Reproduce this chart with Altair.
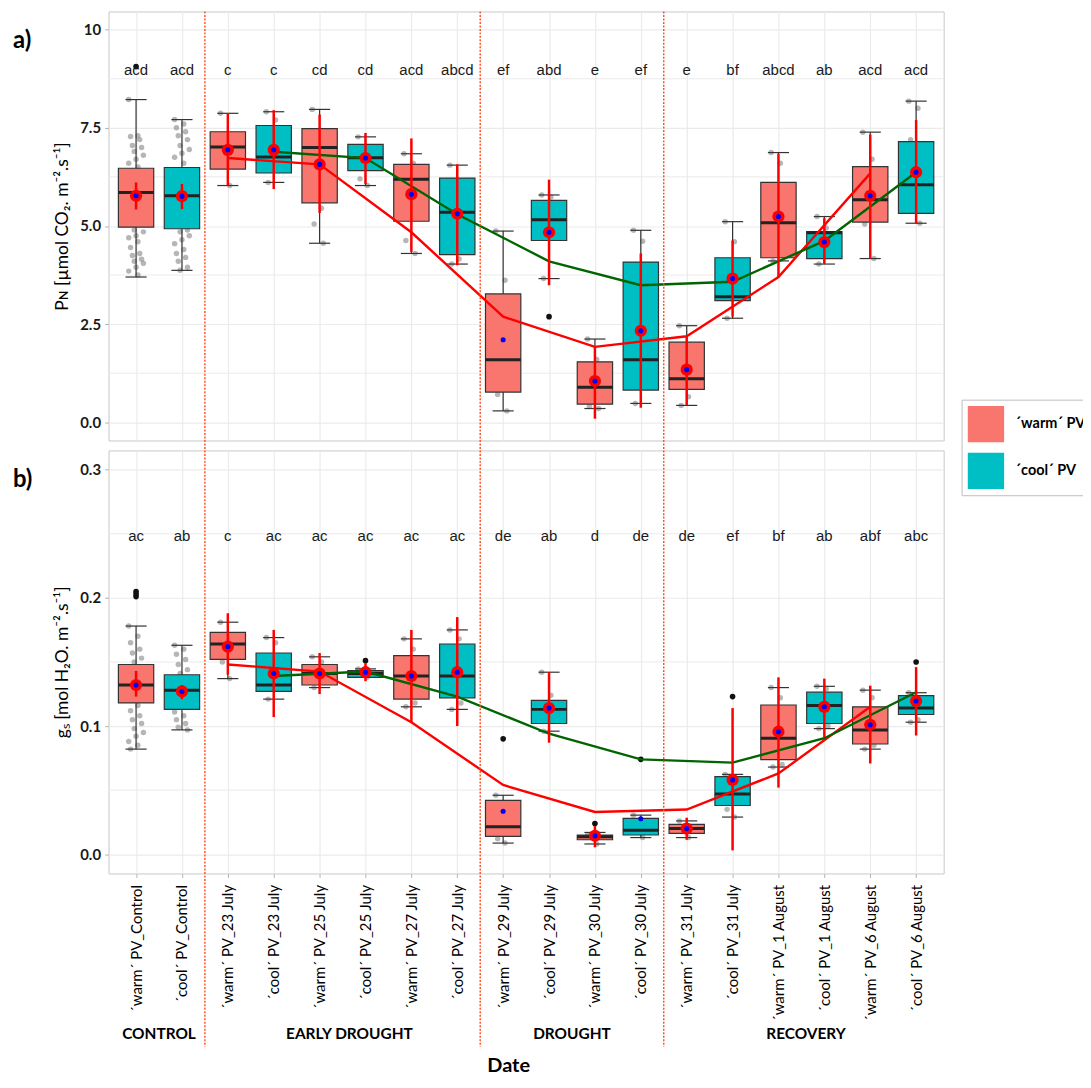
import json
import altair as alt
import pandas as pd

# ---------------- categories ----------------
CATS = ["´warm´ PV_Control", "´cool´ PV_Control",
        "´warm´ PV_23 July", "´cool´ PV_23 July",
        "´warm´ PV_25 July", "´cool´ PV_25 July",
        "´warm´ PV_27 July", "´cool´ PV_27 July",
        "´warm´ PV_29 July", "´cool´ PV_29 July",
        "´warm´ PV_30 July", "´cool´ PV_30 July",
        "´warm´ PV_31 July", "´cool´ PV_31 July",
        "´warm´ PV_1 August", "´cool´ PV_1 August",
        "´warm´ PV_6 August", "´cool´ PV_6 August"]
GROUP_NAMES = ["´warm´ PV", "´cool´ PV"]
GROUP_COLORS = ["#F8766D", "#00BFC4"]
PERIODS = ["CONTROL", "EARLY DROUGHT", "DROUGHT", "RECOVERY"]
PERIOD_POS = [1.5, 5.65, 10.5, 15.6]
SEPARATORS = [2.5, 8.5, 12.5]
WARM_POS = [3, 5, 7, 9, 11, 13, 15, 17]
COOL_POS = [4, 6, 8, 10, 12, 14, 16, 18]

# ---------------- panel a: PN ----------------
PN_LETTERS = ["acd", "acd", "c", "c", "cd", "cd", "acd", "abcd", "ef", "abd",
              "e", "ef", "e", "bf", "abcd", "ab", "acd", "acd"]
PN_Q1 = [4.97, 4.93, 6.45, 6.35, 5.59, 6.41, 5.12, 4.27, 0.77, 4.63, 0.46, 0.82, 0.84, 3.10, 4.19, 4.17, 5.10, 5.32]
PN_MED = [5.85, 5.77, 7.01, 6.76, 7.00, 6.74, 6.19, 5.35, 1.59, 5.16, 0.89, 1.59, 1.11, 3.20, 5.08, 4.83, 5.67, 6.05]
PN_Q3 = [6.47, 6.49, 7.40, 7.56, 7.48, 7.08, 6.57, 6.22, 3.27, 5.65, 1.54, 4.08, 2.04, 4.19, 6.11, 4.86, 6.51, 7.15]
PN_LO = [3.70, 3.87, 6.03, 6.11, 4.56, 6.03, 4.30, 4.03, 0.29, 3.66, 0.35, 0.48, 0.43, 2.65, 4.11, 4.03, 4.17, 5.07]
PN_HI = [8.22, 7.71, 7.87, 7.91, 7.97, 7.27, 6.84, 6.55, 4.87, 5.79, 2.12, 4.89, 2.46, 5.11, 6.87, 5.24, 7.39, 8.18]
PN_MEAN = [5.77, 5.76, 6.94, 6.94, 6.57, 6.73, 5.81, 5.31, 2.10, 4.84, 1.05, 2.33, 1.34, 3.66, 5.24, 4.59, 5.77, 6.37]
PN_ERR_LO = [5.42, 5.43, 6.03, 5.94, 5.33, 6.07, 4.34, 4.00, None, 3.49, 0.09, 0.37, 0.43, 2.69, 3.70, 4.04, 4.17, 5.07]
PN_ERR_HI = [6.11, 6.07, 7.87, 7.95, 7.84, 7.37, 7.23, 6.57, None, 6.18, 1.93, 4.30, 2.20, 4.63, 6.84, 5.20, 7.33, 7.70]
PN_WARM_LINE = [6.73, 6.57, 4.84, 2.69, 1.92, 2.19, 3.70, 6.34]
PN_COOL_LINE = [6.89, 6.73, 5.30, 4.10, 3.49, 3.58, 4.62, 6.37]
PN_OUTLIERS = {1: [9.06], 10: [2.69]}
PN_POINTS = {
    1: [8.22, 7.30, 7.28, 7.20, 7.05, 7.00, 6.90, 6.80, 6.70, 6.60, 6.50, 6.30, 6.00, 5.60, 5.20,
        4.90, 4.85, 4.75, 4.70, 4.60, 4.45, 4.30, 4.25, 4.15, 4.10, 4.05, 3.95, 3.85, 3.75],
    2: [7.71, 7.60, 7.50, 7.40, 7.30, 7.20, 7.05, 6.95, 6.85, 6.75, 6.60, 6.20, 5.80, 5.30,
        4.90, 4.85, 4.75, 4.65, 4.55, 4.40, 4.30, 4.20, 4.10, 3.95, 3.87],
    3: [7.87, 6.03, 7.10, 6.70], 4: [7.91, 7.70, 6.11, 7.00], 5: [7.97, 5.45, 5.05, 4.56, 7.20],
    6: [7.27, 6.03, 6.20, 6.90], 7: [6.84, 6.60, 4.63, 4.30, 5.80], 8: [6.55, 4.16, 4.03, 5.50],
    9: [4.87, 3.62, 0.71, 0.29, 2.00], 10: [5.79, 5.74, 3.66, 5.20], 11: [2.12, 1.60, 0.40, 0.35],
    12: [4.89, 4.61, 0.48, 2.00], 13: [2.46, 0.65, 0.43, 1.50], 14: [5.11, 4.60, 2.65, 3.50],
    15: [6.87, 6.60, 4.11, 5.50], 16: [5.24, 4.95, 4.03, 4.50], 17: [7.39, 6.70, 5.05, 4.17, 6.00],
    18: [8.18, 8.00, 7.20, 5.07, 6.50],
}
PN_TICKS = [0, 2.5, 5, 7.5, 10]
PN_MINOR = [1.25, 3.75, 6.25, 8.75]

# ---------------- panel b: gs ----------------
GS_LETTERS = ["ac", "ab", "c", "ac", "ac", "ac", "ac", "ac", "de", "ab",
              "d", "de", "de", "ef", "bf", "ab", "abf", "abc"]
GS_Q1 = [0.118, 0.113, 0.152, 0.127, 0.132, 0.138, 0.121, 0.122, 0.014, 0.102, 0.0113, 0.015, 0.0162, 0.038, 0.0738, 0.102, 0.086, 0.109]
GS_MED = [0.132, 0.128, 0.164, 0.132, 0.141, 0.141, 0.139, 0.139, 0.0215, 0.113, 0.0136, 0.0187, 0.020, 0.047, 0.0905, 0.116, 0.097, 0.114]
GS_Q3 = [0.148, 0.140, 0.173, 0.157, 0.148, 0.1433, 0.155, 0.164, 0.042, 0.120, 0.0149, 0.028, 0.0233, 0.0605, 0.1164, 0.1264, 0.115, 0.1238]
GS_LO = [0.082, 0.097, 0.137, 0.121, 0.130, 0.138, 0.115, 0.113, 0.0087, 0.096, 0.008, 0.013, 0.013, 0.029, 0.068, 0.098, 0.082, 0.103]
GS_HI = [0.178, 0.163, 0.181, 0.169, 0.154, 0.1446, 0.168, 0.175, 0.046, 0.142, 0.017, 0.0305, 0.026, 0.0623, 0.130, 0.131, 0.128, 0.126]
GS_MEAN = [0.132, 0.127, 0.162, 0.141, 0.141, 0.142, 0.139, 0.142, 0.0336, 0.114, 0.0144, 0.0277, 0.020, 0.058, 0.0956, 0.115, 0.101, 0.1195]
GS_ERR_LO = [0.123, 0.121, 0.140, 0.107, 0.125, 0.135, 0.103, 0.100, None, 0.087, 0.0054, None, 0.0113, 0.003, 0.052, 0.091, 0.0708, 0.0926]
GS_ERR_HI = [0.143, 0.132, 0.188, 0.175, 0.157, 0.149, 0.175, 0.185, None, 0.142, 0.022, None, 0.0285, 0.114, 0.138, 0.137, 0.1315, 0.146]
GS_WARM_LINE = [0.148, 0.1425, 0.103, 0.054, 0.033, 0.0349, 0.063, 0.115]
GS_COOL_LINE = [0.139, 0.1425, 0.123, 0.094, 0.074, 0.0715, 0.0905, 0.1264]
GS_OUTLIERS = {1: [0.201, 0.203, 0.205], 6: [0.151], 9: [0.090], 11: [0.024], 12: [0.074], 14: [0.123], 18: [0.150]}
GS_POINTS = {
    1: [0.178, 0.170, 0.165, 0.160, 0.157, 0.153, 0.150, 0.140, 0.130, 0.122, 0.116, 0.112, 0.108,
        0.105, 0.102, 0.098, 0.095, 0.092, 0.088, 0.085, 0.082],
    2: [0.163, 0.160, 0.156, 0.152, 0.148, 0.144, 0.141, 0.130, 0.120, 0.111, 0.108, 0.105, 0.102, 0.099, 0.097],
    3: [0.181, 0.137, 0.150], 4: [0.169, 0.165, 0.121], 5: [0.154, 0.150, 0.130], 6: [0.1446, 0.138],
    7: [0.168, 0.160, 0.115, 0.118], 8: [0.175, 0.168, 0.113, 0.118], 9: [0.046, 0.0087, 0.012],
    10: [0.142, 0.124, 0.096], 11: [0.0149, 0.008], 12: [0.0305, 0.013], 13: [0.026, 0.013],
    14: [0.0623, 0.029, 0.035], 15: [0.130, 0.122, 0.068, 0.070], 16: [0.131, 0.129, 0.098, 0.100],
    17: [0.128, 0.122, 0.082, 0.085], 18: [0.126, 0.105, 0.103],
}
GS_TICKS = [0.0, 0.1, 0.2, 0.3]
GS_MINOR = [0.05, 0.15, 0.25]

# ---------------- layout / style ----------------
W = 839
H_A = 431
H_B = 425
GAP = 10
GRID = "#ebebeb"
BOXLINE = "#333333"
SEP_COLOR = "#ff4a1c"
CALIBRI = "Lato"


def panel(q1, med, q3, lo, hi, mean, elo, ehi, wline, cline, outl, pts, letters,
          letter_y, ydom, yticks, yminor, ylabel_expr, ytitle, tag, height, bottom, legend):
    n = len(CATS)
    pos = list(range(1, n + 1))
    box = pd.DataFrame({
        "pos": pos, "cat": CATS, "grp": [GROUP_NAMES[i % 2] for i in range(n)],
        "q1": q1, "med": med, "q3": q3, "lo": lo, "hi": hi, "mean": mean,
        "elo": elo, "ehi": ehi, "letter": letters,
    })
    box["ly"] = letter_y
    box["bl"] = box["pos"] - 0.385
    box["br"] = box["pos"] + 0.385
    box["cl"] = box["pos"] - 0.23
    box["cr"] = box["pos"] + 0.23

    prow = []
    for p, vals in pts.items():
        for j, v in enumerate(vals):
            prow.append({"pos": p + ((j * 5) % 9 - 4) * 0.04, "v": v})
    pdf = pd.DataFrame(prow)
    odf = pd.DataFrame([{"pos": p, "v": v} for p, vals in outl.items() for v in vals])
    wdf = pd.DataFrame({"pos": WARM_POS, "v": wline})
    cdf = pd.DataFrame({"pos": COOL_POS, "v": cline})
    mdf = pd.DataFrame({"v": yminor})
    sdf = pd.DataFrame({"s": SEPARATORS})

    xs = alt.Scale(domain=[0.4, 18.6], nice=False, zero=False)
    ys = alt.Scale(domain=ydom, nice=False, zero=False)
    if bottom:
        xaxis = alt.Axis(values=pos, labelExpr=json.dumps(CATS, ensure_ascii=False) + "[datum.value - 1]",
                         labelAngle=-90, labelFont=CALIBRI, labelFontSize=15, labelColor="black",
                         labelPadding=7, labelOverlap=False, labelLimit=300,
                         ticks=True, tickColor="#b3b3b3", tickSize=4, domain=False,
                         grid=True, gridColor=GRID, gridWidth=1.2, title=None)
    else:
        xaxis = alt.Axis(values=pos, labels=False, ticks=False, domain=False,
                         grid=True, gridColor=GRID, gridWidth=1.2, title=None)
    yaxis = alt.Axis(values=yticks, labelExpr=ylabel_expr, labelFont=CALIBRI, labelFontSize=15,
                     labelFontWeight="bold", labelColor="#1a1a1a", labelPadding=4,
                     ticks=True, tickColor="#b3b3b3", tickSize=4, domain=False,
                     grid=True, gridColor=GRID, gridWidth=1.2,
                     title=ytitle, titleFont=CALIBRI, titleFontSize=17.5, titleFontWeight="normal",
                     titleColor="black", titlePadding=8)

    def X(f):
        return alt.X(f, type="quantitative", scale=xs, axis=xaxis)

    def Y(f):
        return alt.Y(f, type="quantitative", scale=ys, axis=yaxis)

    layers = []
    layers.append(alt.Chart(mdf).mark_rule(color=GRID, strokeWidth=1).encode(
        y=Y("v"), x=alt.value(0), x2=alt.value(W)))
    layers.append(alt.Chart(pdf).mark_circle(size=30, color="#8f8f8f", opacity=0.65).encode(
        x=X("pos"), y=Y("v")))
    base = alt.Chart(box)
    layers.append(base.mark_rule(color=BOXLINE, strokeWidth=1.2).encode(x=X("pos"), y=Y("lo"), y2="hi"))
    layers.append(base.mark_rule(color=BOXLINE, strokeWidth=1.2).encode(x=X("cl"), x2="cr", y=Y("lo")))
    layers.append(base.mark_rule(color=BOXLINE, strokeWidth=1.2).encode(x=X("cl"), x2="cr", y=Y("hi")))
    fill_legend = alt.Legend(title=None, orient="none", legendX=857, legendY=390,
                             symbolType="square", symbolSize=1332, symbolStrokeWidth=0,
                             symbolOpacity=1, labelFont=CALIBRI, labelFontSize=14.5,
                             labelFontWeight="bold", labelColor="black", labelOffset=11,
                             rowPadding=10, padding=6, strokeColor="#bdbdbd", fillColor="white") if legend else None
    layers.append(base.mark_rect(stroke=BOXLINE, strokeWidth=1.2).encode(
        x=X("bl"), x2="br", y=Y("q1"), y2="q3",
        fill=alt.Fill("grp:N", scale=alt.Scale(domain=GROUP_NAMES, range=GROUP_COLORS), legend=fill_legend)))
    layers.append(base.mark_rule(color="#222222", strokeWidth=3).encode(x=X("bl"), x2="br", y=Y("med")))
    layers.append(alt.Chart(odf).mark_circle(size=32, color="#111111", opacity=1).encode(x=X("pos"), y=Y("v")))
    layers.append(alt.Chart(wdf).mark_line(color="#ff0000", strokeWidth=2.4).encode(x=X("pos"), y=Y("v")))
    layers.append(alt.Chart(cdf).mark_line(color="#006400", strokeWidth=2.4).encode(x=X("pos"), y=Y("v")))
    errs = base.transform_filter("isValid(datum.elo)")
    layers.append(errs.mark_rule(color="#ff0000", strokeWidth=2.5).encode(x=X("pos"), y=Y("elo"), y2="ehi"))
    layers.append(errs.mark_circle(size=150, color="#ff0000", opacity=1).encode(x=X("pos"), y=Y("mean")))
    layers.append(base.mark_circle(size=26, color="#0000ff", opacity=1).encode(x=X("pos"), y=Y("mean")))
    layers.append(base.mark_text(font="Liberation Sans", fontSize=15, color="#1a1a1a").encode(
        x=X("pos"), y=Y("ly"), text="letter"))
    ext = height + (174 if bottom else GAP)
    layers.append(alt.Chart(sdf).mark_rule(color=SEP_COLOR, strokeWidth=1.4, strokeDash=[2, 1.5]).encode(
        x=X("s"), y=alt.value(0), y2=alt.value(ext)))
    layers.append(alt.Chart(pd.DataFrame({"t": [tag]})).mark_text(
        font=CALIBRI, fontSize=24, fontWeight="bold", align="left", baseline="middle", color="black").encode(
        x=alt.value(-96), y=alt.value(30), text="t"))
    if bottom:
        gdf = pd.DataFrame({"p": PERIOD_POS, "t": PERIODS})
        layers.append(alt.Chart(gdf).mark_text(font=CALIBRI, fontSize=15.5, fontWeight="bold",
                                               color="black", baseline="middle").encode(
            x=X("p"), y=alt.value(height + 161), text="t"))
        layers.append(alt.Chart(pd.DataFrame({"t": ["Date"]})).mark_text(
            font=CALIBRI, fontSize=20, fontWeight="bold", color="black", baseline="middle").encode(
            x=alt.value(402), y=alt.value(height + 193), text="t"))
    return alt.layer(*layers).properties(width=W, height=height)


pa = panel(PN_Q1, PN_MED, PN_Q3, PN_LO, PN_HI, PN_MEAN, PN_ERR_LO, PN_ERR_HI,
           PN_WARM_LINE, PN_COOL_LINE, PN_OUTLIERS, PN_POINTS, PN_LETTERS, 8.96,
           [-0.464, 10.464], PN_TICKS, PN_MINOR,
           "datum.value == 10 ? '10' : format(datum.value, '.1f')",
           "Pɴ [µmol CO₂. m⁻².s⁻¹]", "a)", H_A, False, True)
pb = panel(GS_Q1, GS_MED, GS_Q3, GS_LO, GS_HI, GS_MEAN, GS_ERR_LO, GS_ERR_HI,
           GS_WARM_LINE, GS_COOL_LINE, GS_OUTLIERS, GS_POINTS, GS_LETTERS, 0.248,
           [-0.015, 0.315], GS_TICKS, GS_MINOR,
           "format(datum.value, '.1f')",
           "gₛ [mol H₂O. m⁻².s⁻¹]", "b)", H_B, True, False)

chart = alt.vconcat(pa, pb, spacing=GAP, bounds="flush").resolve_legend(fill="independent").properties(
    padding={"left": 4, "top": -1, "right": -10, "bottom": 0}
).configure_view(stroke="#c8c8c8", strokeWidth=1)

chart.save("out.html", embed_options={"renderer": "svg", "actions": False})
